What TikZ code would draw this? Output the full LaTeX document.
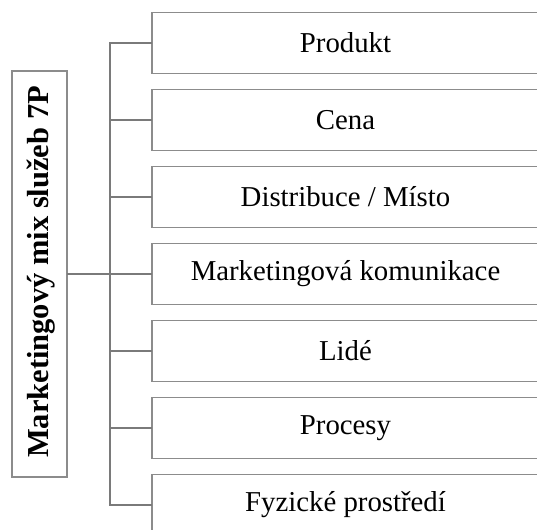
\documentclass[tikz,border=0pt]{standalone}
\usepackage{fontspec}
\setmainfont{Liberation Serif}
\begin{document}
\begin{tikzpicture}[x=1pt,y=-1pt,
  item/.style={draw=black!45,line width=1.5pt,inner sep=0pt,outer sep=0pt,
    minimum width=387pt,minimum height=61pt,
    font=\fontsize{28.8}{35}\selectfont},
  title/.style={draw=black!45,line width=1.5pt,inner sep=0pt,outer sep=0pt,
    minimum width=55pt,minimum height=406pt},
  conn/.style={draw=black!52,line width=2.5pt}]
\useasboundingbox (0,0) rectangle (537,529);
% left title box
\node[title] (t) at (39.5,274) {};
\node[rotate=90,font=\fontsize{30.5}{36}\selectfont\bfseries] (tt) at (41,272) {Marketingový mix služeb 7P};
% branch boxes
\node[item] (b1) at (345.5,43)  {Produkt};
\node[item] (b2) at (345.5,120) {Cena};
\node[item] (b3) at (345.5,197) {Distribuce / Místo};
\node[item] (b4) at (345.5,274) {Marketingová komunikace};
\node[item] (b5) at (345.5,351) {Lidé};
\node[item] (b6) at (345.5,428) {Procesy};
\node[item] (b7) at (345.5,505) {Fyzické prostředí};
% connectors
\coordinate (j) at (110,274);
\draw[conn] (t.east) -- (j);
\foreach \b in {b1,b2,b3,b4,b5,b6,b7}
  \draw[conn] (j) |- (\b.west);
\end{tikzpicture}
\end{document}
